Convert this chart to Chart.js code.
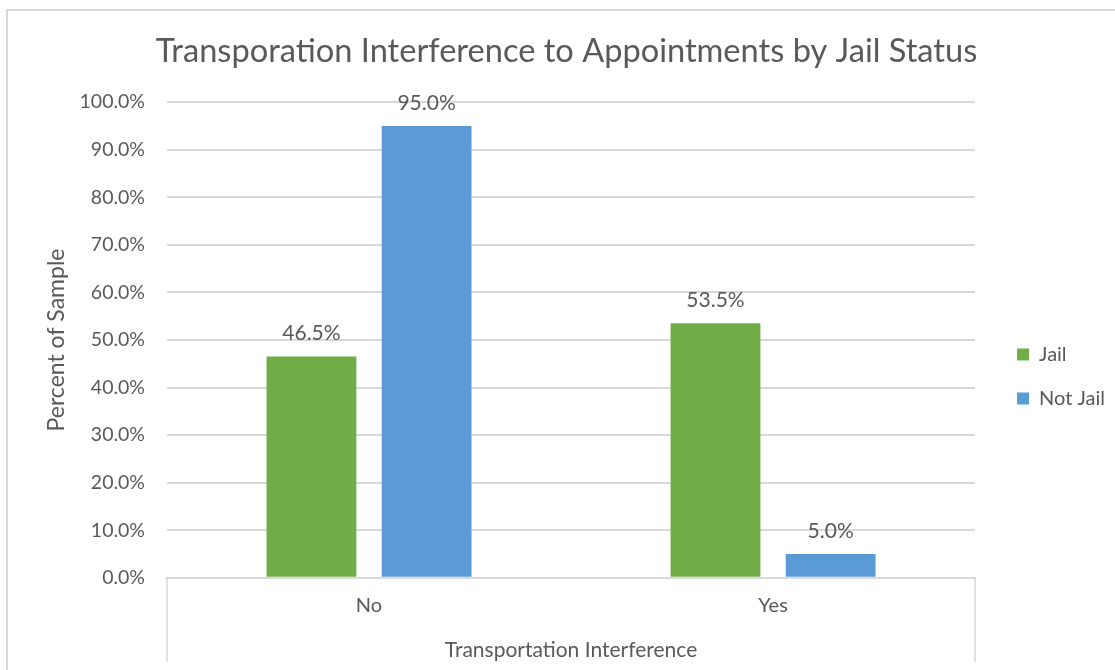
<!DOCTYPE html>
<html lang="en">
<head>
    <meta charset="UTF-8">
    <title>Transporation Interference to Appointments by Jail Status</title>
    <script src="https://cdn.jsdelivr.net/npm/chart.js"></script>
    <style>
        body { margin: 0; background: #fff; }
        canvas { display: block; }
    </style>
</head>
<body>
    <canvas id="chart" width="1115" height="670"></canvas>
    <script>
        // categories and series (percent of sample)
        const categories = ['No', 'Yes'];
        const jail = [46.5, 53.5];
        const notJail = [95.0, 5.0];
        const yTicks = [0, 10, 20, 30, 40, 50, 60, 70, 80, 90, 100];

        const textColor = '#595959';
        const gridColor = '#D9D9D9';
        const fontFamily = 'Lato, "Open Sans", sans-serif';

        // value labels above each bar
        const barLabels = {
            id: 'barLabels',
            afterDatasetsDraw(chart) {
                const ctx = chart.ctx;
                ctx.save();
                ctx.font = '21px ' + fontFamily;
                ctx.fillStyle = textColor;
                ctx.textAlign = 'center';
                ctx.textBaseline = 'middle';
                chart.data.datasets.forEach((ds, i) => {
                    chart.getDatasetMeta(i).data.forEach((bar, j) => {
                        ctx.fillText(ds.data[j].toFixed(1) + '%', bar.x, bar.y - 23);
                    });
                });
                ctx.restore();
            }
        };

        // outer frame and the category box lines below the axis
        const frame = {
            id: 'frame',
            afterDraw(chart) {
                const ctx = chart.ctx;
                const area = chart.chartArea;
                ctx.save();
                ctx.strokeStyle = gridColor;
                ctx.lineWidth = 2;
                ctx.beginPath();
                ctx.moveTo(7, chart.height);
                ctx.lineTo(7, 10);
                ctx.lineTo(chart.width, 10);
                ctx.stroke();
                ctx.lineWidth = 1.5;
                ctx.beginPath();
                ctx.moveTo(area.left, area.bottom);
                ctx.lineTo(area.left, 662);
                ctx.moveTo(area.right, area.bottom);
                ctx.lineTo(area.right, 662);
                ctx.stroke();
                ctx.restore();
            }
        };

        const ctx = document.getElementById('chart').getContext('2d');
        new Chart(ctx, {
            type: 'bar',
            data: {
                labels: categories,
                datasets: [
                    {
                        label: 'Jail',
                        data: jail,
                        backgroundColor: '#70AD47'
                    },
                    {
                        label: 'Not Jail',
                        data: notJail,
                        backgroundColor: '#5B9BD5'
                    }
                ]
            },
            options: {
                responsive: false,
                animation: false,
                categoryPercentage: 0.57,
                barPercentage: 0.78,
                layout: {
                    padding: { left: 18, right: 0, top: 10, bottom: 7 }
                },
                plugins: {
                    title: {
                        display: true,
                        text: 'Transporation Interference to Appointments by Jail Status',
                        color: textColor,
                        font: { family: fontFamily, size: 32.6, weight: 'normal' },
                        padding: { top: 22, bottom: 31 }
                    },
                    legend: {
                        position: 'right',
                        // empty title only pushes the entries down a little
                        title: {
                            display: true,
                            text: ' ',
                            font: { size: 10 },
                            padding: 34
                        },
                        labels: {
                            color: textColor,
                            font: { family: fontFamily, size: 20 },
                            boxWidth: 12,
                            boxHeight: 12,
                            padding: 24
                        }
                    },
                    tooltip: { enabled: false }
                },
                scales: {
                    x: {
                        grid: { display: false },
                        border: { color: gridColor, width: 2 },
                        ticks: {
                            color: textColor,
                            font: { family: fontFamily, size: 20 },
                            padding: 8
                        },
                        title: {
                            display: true,
                            text: 'Transportation Interference',
                            color: textColor,
                            font: { family: fontFamily, size: 21 },
                            padding: { top: 12, bottom: 0 }
                        }
                    },
                    y: {
                        min: 0,
                        max: 100,
                        afterBuildTicks(scale) {
                            scale.ticks = yTicks.map(v => ({ value: v }));
                        },
                        afterFit(scale) {
                            scale.width = 149;
                        },
                        grid: { color: gridColor, lineWidth: 2, drawTicks: false },
                        border: { display: false },
                        ticks: {
                            color: textColor,
                            font: { family: fontFamily, size: 19.5 },
                            padding: 22,
                            callback: v => v.toFixed(1) + '%'
                        },
                        title: {
                            display: true,
                            text: 'Percent of Sample',
                            color: textColor,
                            font: { family: fontFamily, size: 23 },
                            padding: { top: 25, bottom: 0 }
                        }
                    },
                    // blank strip between the plot and the legend
                    gap: {
                        position: 'right',
                        display: true,
                        grid: { display: false },
                        border: { display: false },
                        ticks: { display: false },
                        afterFit(scale) {
                            scale.width = 18;
                        }
                    }
                }
            },
            plugins: [barLabels, frame]
        });
    </script>
</body>
</html>
